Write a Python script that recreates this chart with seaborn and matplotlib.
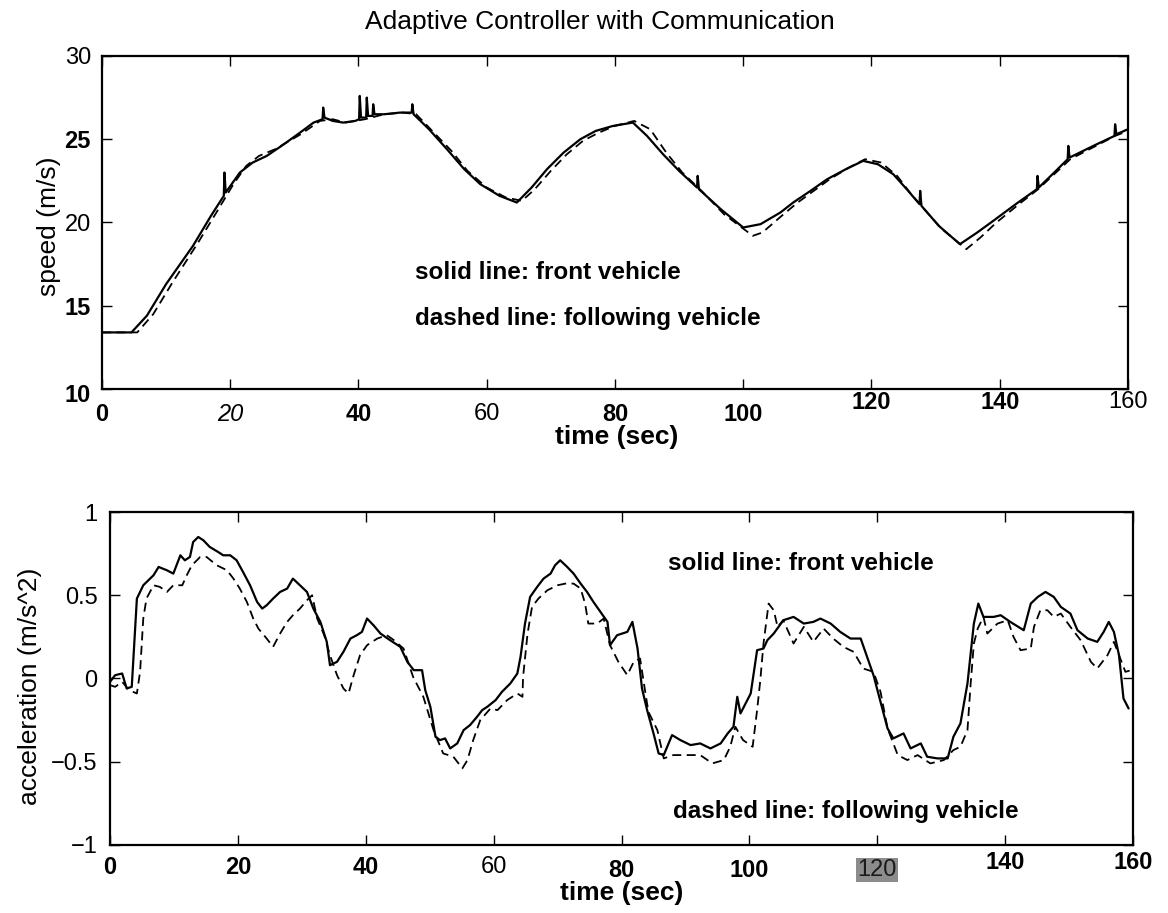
import matplotlib
matplotlib.use("Agg")
import matplotlib.pyplot as plt
import matplotlib.transforms as mtransforms
import numpy as np
import pandas as pd
import seaborn as sns

# ---------------- speed (m/s) ----------------
t_speed_front = [0, 4.6, 7.0, 10.0, 14.2, 17.0, 19.0, 19.1, 19.3, 21.5, 23.5, 25.7,
                 28.0, 30.9, 33.0, 34.4, 34.5, 34.7, 36.0, 37.6, 39.5, 40.1, 40.2,
                 40.4, 41.2, 41.3, 41.5, 42.2, 42.3, 42.5, 44.0, 46.5, 48.3, 48.4,
                 48.6, 51.0, 53.8, 56.5, 59.0, 62.0, 64.7, 67.0, 69.4, 72.0, 74.6,
                 77.0, 79.7, 82.8, 85.0, 87.5, 90.0, 92.8, 92.9, 93.1, 96.5, 100.0,
                 102.7, 105.8, 107.8, 110.5, 113.1, 116.0, 118.7, 121.0, 123.4,
                 125.5, 127.5, 127.6, 127.8, 130.5, 133.8, 136.5, 139.0, 142.5,
                 145.8, 145.9, 146.1, 148.5, 150.6, 150.7, 150.9, 154.6, 157.9,
                 158.0, 158.2, 160.0]
v_speed_front = [13.4, 13.4, 14.4, 16.3, 18.6, 20.4, 21.6, 23.0, 21.8, 23.0, 23.6, 24.0,
                 24.6, 25.4, 26.0, 26.2, 26.9, 26.3, 26.1, 26.0, 26.1, 26.2, 27.6,
                 26.3, 26.3, 27.5, 26.4, 26.4, 27.1, 26.5, 26.5, 26.6, 26.6, 27.1,
                 26.5, 25.6, 24.4, 23.2, 22.3, 21.6, 21.2, 22.1, 23.2, 24.2, 25.0,
                 25.5, 25.8, 26.0, 25.2, 24.1, 23.1, 22.1, 22.8, 22.0, 20.8, 19.7,
                 19.9, 20.6, 21.2, 21.9, 22.6, 23.2, 23.7, 23.5, 22.9,
                 22.0, 21.1, 21.9, 21.0, 19.8, 18.7, 19.4, 20.1, 21.1,
                 22.0, 22.8, 22.1, 23.0, 23.8, 24.6, 23.9, 24.6, 25.2,
                 25.9, 25.3, 25.6]

t_speed_follow = [0, 5.5, 8.0, 11.0, 15.0, 18.0, 20.5, 22.5, 24.5, 27.0, 31.0, 34.0,
                  36.0, 38.0, 41.0, 44.0, 47.0, 49.0, 51.5, 54.5, 57.0, 60.0, 63.0,
                  65.5, 67.5, 70.0, 72.5, 75.0, 77.5, 80.0, 83.0, 85.5, 88.0, 90.5,
                  93.5, 97.0, 101.5, 103.0, 106.0, 108.5, 111.0, 113.5, 116.5, 119.0,
                  121.5, 124.0, 126.0, 128.0, 131.0, 134.8, 137.0, 139.5, 143.0,
                  146.0, 148.5, 151.0, 155.0, 158.0, 160.0]
v_speed_follow = [13.4, 13.4, 14.5, 16.4, 18.8, 20.7, 22.3, 23.4, 24.0, 24.4, 25.3, 26.1,
                  26.2, 26.0, 26.2, 26.5, 26.6, 26.5, 25.5, 24.3, 23.1, 22.1, 21.5,
                  21.3, 22.0, 23.1, 24.1, 24.9, 25.4, 25.8, 26.1, 25.6, 24.2, 23.0,
                  21.9, 20.5, 19.2, 19.4, 20.4, 21.2, 21.9, 22.6, 23.3, 23.8,
                  23.6, 22.8, 21.8, 20.9, 19.6, 18.4, 19.1, 20.0, 21.1,
                  22.0, 22.9, 23.8, 24.6, 25.2, 25.5]

# ---------------- acceleration (m/s^2) ----------------
t_acc_front = [0, 0.8, 1.9, 2.6, 3.4, 4.2, 5.2, 6.8, 7.6, 8.9, 9.9, 11.0, 11.7, 12.5,
               13.0, 13.8, 14.6, 15.6, 16.9, 17.7, 18.8, 19.8, 20.8, 21.9, 23.0, 23.8,
               24.5, 25.5, 26.6, 27.7, 28.6, 29.7, 30.8, 31.8, 32.9, 33.9, 34.4, 35.5,
               36.5, 37.6, 38.6, 39.4, 40.2, 41.2, 42.3, 43.8, 45.4, 46.5, 47.5, 48.8,
               49.3, 50.1, 50.9, 51.6, 52.4, 53.2, 54.3, 55.3, 56.3, 57.4, 58.2, 59.0,
               60.3, 61.3, 62.6, 63.7, 64.2, 64.9, 65.7, 66.8, 67.8, 68.9, 69.6, 70.4,
               71.5, 72.5, 73.6, 74.6, 75.6, 76.7, 77.8, 78.2, 79.3, 80.9, 81.7, 82.5,
               83.2, 84.0, 85.0, 85.8, 86.6, 87.9, 89.2, 90.8, 92.3, 93.9, 95.5, 96.6,
               97.5, 98.1, 98.6, 100.2, 101.2, 102.2, 102.8, 103.8, 105.3, 106.9,
               108.5, 110.0, 111.1, 112.7, 114.2, 115.8, 117.4, 118.5, 119.4, 120.5,
               121.6, 122.5, 124.1, 125.2, 126.8, 127.8, 129.4, 131.0, 131.9, 133.0,
               134.1, 135.1, 135.8, 136.6, 138.2, 139.3, 140.8, 142.9, 144.0, 145.1,
               146.3, 147.6, 148.7, 150.2, 151.3, 152.9, 154.4, 155.4, 156.2, 157.0,
               157.8, 158.5, 159.3]
a_acc_front = [-0.02, 0.02, 0.03, -0.06, -0.05, 0.48, 0.56, 0.62, 0.67, 0.65, 0.63, 0.74,
               0.71, 0.73, 0.82, 0.85, 0.83, 0.79, 0.76, 0.74, 0.74, 0.71, 0.64, 0.56,
               0.46, 0.42, 0.44, 0.48, 0.52, 0.54, 0.60, 0.56, 0.52, 0.42, 0.34, 0.22,
               0.08, 0.10, 0.16, 0.24, 0.26, 0.28, 0.36, 0.32, 0.27, 0.23, 0.19, 0.10,
               0.05, 0.05, -0.07, -0.17, -0.35, -0.37, -0.36, -0.42, -0.39, -0.31,
               -0.28, -0.23, -0.19, -0.17, -0.13, -0.08, -0.03, 0.03, 0.13, 0.33, 0.49,
               0.55, 0.60, 0.63, 0.68, 0.71, 0.67, 0.63, 0.57, 0.52, 0.46, 0.40, 0.34,
               0.20, 0.26, 0.28, 0.34, 0.18, -0.06, -0.19, -0.33, -0.45, -0.46, -0.34,
               -0.37, -0.40, -0.39, -0.42, -0.39, -0.33, -0.29, -0.11, -0.21, -0.09,
               0.17, 0.18, 0.23, 0.27, 0.35, 0.37, 0.33, 0.34, 0.36, 0.33, 0.28, 0.24,
               0.24, 0.12, 0.02, -0.14, -0.30, -0.36, -0.33, -0.42, -0.39, -0.47,
               -0.48, -0.48, -0.35, -0.27, -0.03, 0.33, 0.45, 0.37, 0.37, 0.38, 0.34,
               0.29, 0.45, 0.49, 0.52, 0.49, 0.43, 0.39, 0.29, 0.24, 0.22, 0.28, 0.34,
               0.28, 0.14, -0.12, -0.18]

t_acc_follow = [0, 0.8, 1.9, 3.0, 4.2, 4.7, 5.2, 5.7, 6.8, 7.8, 8.9, 9.9, 11.3, 12.0,
                12.8, 14.1, 15.1, 16.7, 18.3, 19.3, 20.3, 21.4, 22.4, 23.2, 24.5, 25.5,
                26.6, 27.7, 28.6, 29.7, 30.8, 31.6, 32.4, 33.5, 34.4, 35.5, 36.5, 37.3,
                38.1, 39.1, 40.2, 41.8, 43.3, 44.4, 45.9, 47.4, 49.0, 50.6, 52.1, 53.7,
                55.1, 55.9, 56.8, 57.9, 59.5, 60.6, 62.1, 63.7, 64.5, 64.6, 65.3, 66.0,
                67.0, 68.4, 70.0, 71.2, 72.5, 73.6, 74.3, 74.8, 76.2, 77.2, 78.2, 79.5,
                80.9, 81.9, 82.9, 83.7, 84.2, 85.6, 86.6, 88.1, 90.2, 92.3, 94.2, 96.0,
                97.0, 97.8, 99.0, 100.5, 101.2, 101.7, 102.2, 103.0, 103.8, 104.4,
                105.3, 106.9, 108.5, 110.0, 111.6, 113.1, 114.7, 116.3, 117.8, 119.4,
                120.5, 121.6, 123.2, 124.7, 126.3, 128.3, 130.4, 131.9, 133.0, 134.1,
                134.6, 135.1, 135.7, 136.6, 137.2, 138.8, 140.4, 141.3, 142.4, 144.0,
                144.5, 145.5, 146.6, 147.6, 148.7, 150.2, 151.8, 153.4, 154.4, 156.0,
                157.0, 158.0, 158.8, 159.7]
a_acc_follow = [-0.04, -0.05, -0.02, -0.07, -0.09, 0.04, 0.36, 0.48, 0.56, 0.55, 0.52,
                0.56, 0.56, 0.62, 0.68, 0.73, 0.73, 0.68, 0.65, 0.60, 0.54, 0.46, 0.36,
                0.30, 0.24, 0.19, 0.27, 0.34, 0.38, 0.42, 0.47, 0.50, 0.36, 0.26, 0.14,
                0.02, -0.06, -0.09, 0.02, 0.14, 0.20, 0.24, 0.26, 0.23, 0.18, 0.01,
                -0.11, -0.31, -0.45, -0.47, -0.54, -0.49, -0.37, -0.25, -0.18, -0.19,
                -0.13, -0.09, -0.11, 0.01, 0.27, 0.43, 0.48, 0.53, 0.56, 0.57, 0.57,
                0.54, 0.45, 0.33, 0.33, 0.36, 0.20, 0.10, 0.02, 0.10, 0.12, -0.08,
                -0.20, -0.31, -0.48, -0.46, -0.46, -0.46, -0.51, -0.49, -0.41, -0.29,
                -0.37, -0.41, -0.19, -0.01, 0.21, 0.45, 0.41, 0.31, 0.35, 0.21, 0.31,
                0.22, 0.30, 0.24, 0.19, 0.16, 0.06, 0.04, -0.08, -0.30, -0.46, -0.49,
                -0.46, -0.51, -0.49, -0.43, -0.41, -0.31, -0.03, 0.21, 0.30, 0.37,
                0.27, 0.33, 0.35, 0.25, 0.17, 0.18, 0.31, 0.41, 0.41, 0.37, 0.39, 0.31,
                0.23, 0.10, 0.06, 0.14, 0.22, 0.12, 0.04, 0.05]

# ---------------- tick labels ----------------
time_ticks = [0, 20, 40, 60, 80, 100, 120, 140, 160]
time_labels = ["0", "20", "40", "60", "80", "100", "120", "140", "160"]
speed_ticks = [10, 15, 20, 25, 30]
speed_labels = ["10", "15", "20", "25", "30"]
acc_ticks = [-1, -0.5, 0, 0.5, 1]
acc_labels = ["\u22121", "\u22120.5", "0", "0.5", "1"]

title_text = "Adaptive Controller with Communication"
note_front = "solid line: front vehicle"
note_follow = "dashed line: following vehicle"

sns.set_theme(style="ticks")
plt.rcParams["font.family"] = ["Liberation Sans", "DejaVu Sans"]
plt.rcParams["axes.linewidth"] = 1.6
plt.rcParams["axes.edgecolor"] = "black"
plt.rcParams["text.color"] = "black"
plt.rcParams["axes.labelcolor"] = "black"
plt.rcParams["xtick.color"] = "black"
plt.rcParams["ytick.color"] = "black"

fig = plt.figure(figsize=(11.68, 9.13), dpi=100)
ax1 = fig.add_axes([0.0873, 0.5739, 0.8784, 0.3648])
ax2 = fig.add_axes([0.0942, 0.0745, 0.8759, 0.3647])

df_speed_front = pd.DataFrame({"time": t_speed_front, "speed": v_speed_front})
df_speed_follow = pd.DataFrame({"time": t_speed_follow, "speed": v_speed_follow})
df_acc_front = pd.DataFrame({"time": t_acc_front, "acc": a_acc_front})
df_acc_follow = pd.DataFrame({"time": t_acc_follow, "acc": a_acc_follow})

dash = (0, (5, 3))
sns.lineplot(data=df_speed_follow, x="time", y="speed", ax=ax1, color="black",
             linewidth=1.3, linestyle=dash, estimator=None, sort=False)
sns.lineplot(data=df_speed_front, x="time", y="speed", ax=ax1, color="black",
             linewidth=1.6, estimator=None, sort=False)
sns.lineplot(data=df_acc_follow, x="time", y="acc", ax=ax2, color="black",
             linewidth=1.3, linestyle=dash, estimator=None, sort=False)
sns.lineplot(data=df_acc_front, x="time", y="acc", ax=ax2, color="black",
             linewidth=1.6, estimator=None, sort=False)

TICK_FS = 17


def style_axis(ax, yticks, ylabels, ylim, xpad, ypad):
    ax.set_xlim(0, 160)
    ax.set_ylim(*ylim)
    ax.set_xticks(time_ticks)
    ax.set_xticklabels(time_labels, fontsize=TICK_FS, color="black")
    ax.set_yticks(yticks)
    ax.set_yticklabels(ylabels, fontsize=TICK_FS, color="black")
    ax.tick_params(axis="both", direction="in", top=True, right=True,
                   length=7, width=1.0, colors="black")
    ax.tick_params(axis="x", pad=xpad)
    ax.tick_params(axis="y", pad=ypad)
    for s in ax.spines.values():
        s.set_visible(True)
        s.set_linewidth(1.6)
        s.set_color("black")


def restyle_labels(labels, weights, styles, dys):
    for lab, w, st, dy in zip(labels, weights, styles, dys):
        lab.set_fontweight(w)
        lab.set_fontstyle(st)
        if dy:
            lab.set_transform(lab.get_transform() +
                              mtransforms.ScaledTranslation(0, dy / 72, fig.dpi_scale_trans))


# top panel: speed
style_axis(ax1, speed_ticks, speed_labels, (10, 30), xpad=10, ypad=8)
restyle_labels(ax1.get_xticklabels(),
               ["bold", "normal", "bold", "normal", "bold", "bold", "bold", "bold", "normal"],
               ["normal", "italic", "normal", "normal", "normal", "normal", "normal", "normal", "normal"],
               [0, 0, 0, 0, 0, 0, 8.5, 8.5, 8.5])
restyle_labels(ax1.get_yticklabels(),
               ["bold", "bold", "normal", "bold", "normal"],
               ["normal"] * 5,
               [-3, 0, 0, 0, 0])
ax1.set_xlabel("time (sec)", fontsize=19, fontweight="bold", va="center", color="black")
ax1.xaxis.set_label_coords(0.502, -0.144)
ax1.set_ylabel("speed (m/s)", fontsize=19, va="center", color="black")
ax1.yaxis.set_label_coords(-0.052, 0.49)
ax1.text(48.8, 16.97, note_front, fontsize=17.5, fontweight="bold", va="center",
         ha="left", color="black")
ax1.text(48.8, 14.26, note_follow, fontsize=17.5, fontweight="bold", va="center",
         ha="left", color="black")

# bottom panel: acceleration
style_axis(ax2, acc_ticks, acc_labels, (-1, 1), xpad=8, ypad=9)
restyle_labels(ax2.get_xticklabels(),
               ["bold", "bold", "bold", "normal", "bold", "bold", "normal", "bold", "bold"],
               ["normal"] * 9,
               [0, 0, 0, 0, -2, -2, -2, 4, 4])
for lab in ax2.get_yticklabels():
    lab.set_fontweight("normal")
x_lab_120 = ax2.get_xticklabels()[6]
x_lab_120.set_color("#1a1a1a")
x_lab_120.set_bbox(dict(boxstyle="square,pad=0.05", facecolor="#8c8c8c", edgecolor="none"))
ax2.set_xlabel("time (sec)", fontsize=19, fontweight="bold", va="center", color="black")
ax2.xaxis.set_label_coords(0.5005, -0.144)
ax2.set_ylabel("acceleration (m/s^2)", fontsize=19, va="center", color="black")
ax2.yaxis.set_label_coords(-0.078, 0.477)
ax2.text(87.2, 0.69, note_front, fontsize=17.5, fontweight="bold", va="center",
         ha="left", color="black")
ax2.text(88.1, -0.80, note_follow, fontsize=17.5, fontweight="bold", va="center",
         ha="left", color="black")

fig.text(0.514, 1 - 22 / 913, title_text, fontsize=19, ha="center", va="center",
         color="black")

fig.savefig("out.png", dpi=100, facecolor="white")
